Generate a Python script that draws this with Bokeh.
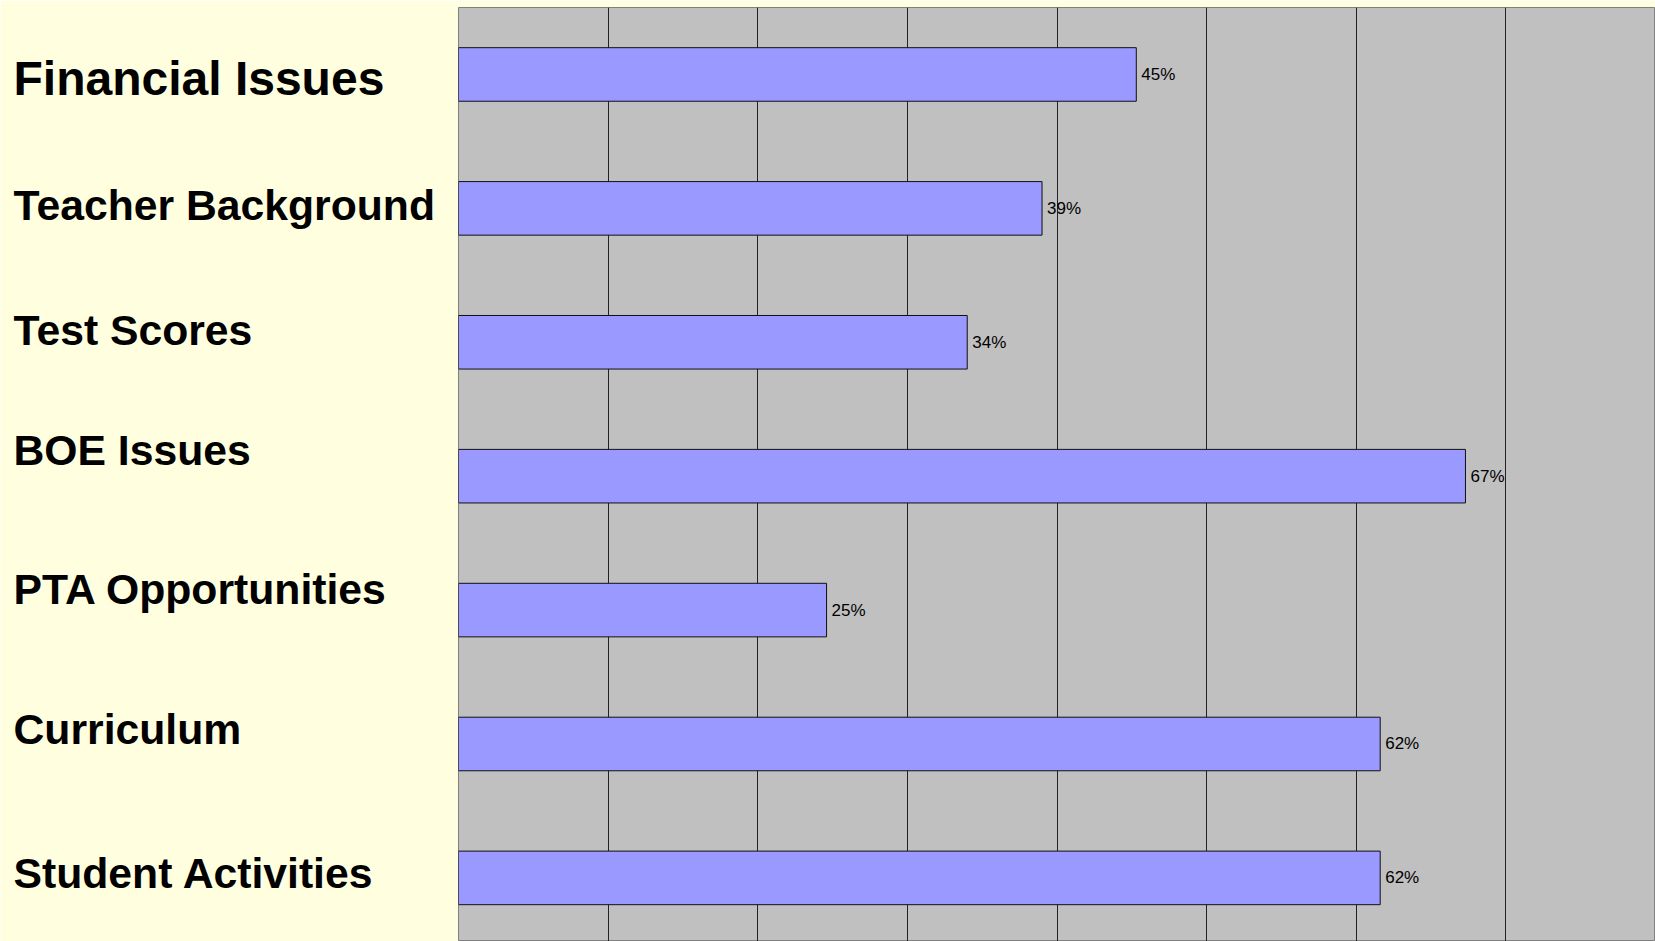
from bokeh.plotting import figure
from bokeh.layouts import row
from bokeh.models import Range1d, FixedTicker, ColumnDataSource
from bokeh.core.properties import value
from bokeh.embed import file_html
from bokeh.resources import INLINE

categories = ["Financial Issues", "Teacher Background", "Test Scores", "BOE Issues",
              "PTA Opportunities", "Curriculum", "Student Activities"]
values = [45.3, 39.0, 34.0, 67.3, 24.6, 61.6, 61.6]
value_labels = ["45%", "39%", "34%", "67%", "25%", "62%", "62%"]
x_ticks = [0, 10, 20, 30, 40, 50, 60, 70, 80]

# label styling (pixel offsets of baselines from bar centres, font sizes)
label_offsets_px = [4.5, -3, -12.5, -25.8, -21, -15.3, -5]
label_sizes = ["48px", "42.7px", "42.7px", "42.7px", "42.7px", "42.7px", "42.7px"]

BAND_PX = 133.9
BG = "#FFFFE0"
ypos = list(range(len(categories)))

src = ColumnDataSource(dict(y=ypos, v=values, lab=value_labels))
lab_src = ColumnDataSource(dict(
    y=[i + label_offsets_px[i] / BAND_PX for i in ypos],
    x=[13] * len(categories),
    t=categories,
    s=label_sizes,
))

yr = Range1d(6.475, -0.5)

# left panel with category labels
pl = figure(width=458, height=941, output_backend="svg", toolbar_location=None,
            x_range=Range1d(0, 458), y_range=yr,
            min_border_left=0, min_border_top=7, min_border_right=0, min_border_bottom=0)
pl.background_fill_color = BG
pl.border_fill_color = BG
pl.outline_line_color = None
pl.xaxis.visible = False
pl.yaxis.visible = False
pl.grid.visible = False
pl.text(x="x", y="y", text="t", source=lab_src, text_font=value("Liberation Sans"),
        text_font_style="bold", text_font_size="s", text_color="#000000",
        text_baseline="alphabetic", text_align="left")

# main bar chart
p = figure(width=1197, height=941, output_backend="svg", toolbar_location=None,
           x_range=Range1d(0, 80), y_range=yr,
           min_border_left=0, min_border_top=7, min_border_right=0, min_border_bottom=0)
p.background_fill_color = "#C0C0C0"
p.border_fill_color = BG
p.outline_line_color = "#808080"
p.outline_line_width = 1

p.xaxis.visible = False
p.yaxis.visible = False
p.xaxis.ticker = FixedTicker(ticks=x_ticks)
p.xgrid.ticker = FixedTicker(ticks=x_ticks)
p.xgrid.grid_line_color = "#222222"
p.xgrid.grid_line_width = 1
p.ygrid.visible = False

p.hbar(y="y", right="v", left=0, height=0.40, source=src,
       fill_color="#9999FF", line_color="#111111", line_width=1)

p.text(x="v", y="y", text="lab", source=src, x_offset=5,
       text_baseline="middle", text_align="left",
       text_font=value("Liberation Sans"), text_font_size="17px", text_color="#000000")

layout = row(pl, p, spacing=0)

open("out.html", "w").write(file_html(layout, INLINE))
